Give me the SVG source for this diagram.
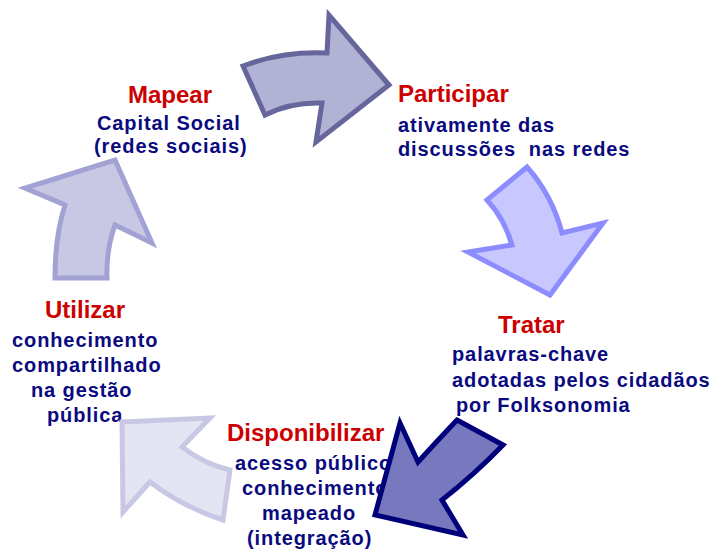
<svg xmlns="http://www.w3.org/2000/svg" width="712" height="552" viewBox="0 0 712 552">
<style>
.t{font-family:"Liberation Sans",Arial,sans-serif;font-weight:bold;font-size:24px;fill:#cc0000}
.b{font-family:"Liberation Sans",Arial,sans-serif;font-weight:bold;font-size:20px;fill:#0a0a80;letter-spacing:0.9px}
.arr{stroke-width:5;stroke-linejoin:miter}
</style>
<rect width="712" height="552" fill="#ffffff"/>
<g id="mapear">
<text class="t" x="128" y="103">Mapear</text>
<text class="b" x="97" y="130">Capital Social</text>
<text class="b" x="94" y="153">(redes sociais)</text>
</g>
<g id="participar">
<text class="t" x="398" y="102">Participar</text>
<text class="b" x="398" y="132">ativamente das</text>
<text class="b" x="398" y="156" xml:space="preserve">discussões  nas redes</text>
</g>
<g id="tratar">
<text class="t" x="498" y="333">Tratar</text>
<text class="b" x="452" y="361">palavras-chave</text>
<text class="b" x="452" y="387">adotadas pelos cidadãos</text>
<text class="b" x="456" y="412">por Folksonomia</text>
</g>
<g id="disponibilizar">
<text class="t" x="227" y="441">Disponibilizar</text>
<text class="b" x="235" y="470">acesso público</text>
<text class="b" x="242" y="495">conhecimento</text>
<text class="b" x="262" y="520">mapeado</text>
<text class="b" x="247" y="545">(integração)</text>
</g>
<g id="utilizar">
<text class="t" x="45" y="318">Utilizar</text>
<text class="b" x="12" y="347">conhecimento</text>
<text class="b" x="12" y="372">compartilhado</text>
<text class="b" x="31" y="397">na gestão</text>
<text class="b" x="47" y="422">pública</text>
</g>
<g id="connectors">
<path class="arr" fill="#b2b2d4" stroke="#66669c" d="M243,66 Q282,51 327,53 L329,15 L389,85 L316,142 L322,103 Q290,102 265,115 Z"/>
<path class="arr" fill="#c8c8ff" stroke="#8c8cff" d="M527,167 Q552,195 562,233 L603,223 L550,295 L468,252 L512,245 Q504,218 487,200 Z"/>
<path class="arr" fill="#e4e4f2" stroke="#c8c8e4" d="M122,422 L210,418 L182,447 Q204,464 230,470 L223,520 Q183,507 150,482 L123,512 Z"/>
<path class="arr" fill="#c8c8e4" stroke="#a2a2d4" d="M115,160 L152,243 L115,225 Q106,250 107,278 L55,278 Q55,236 65,205 L25,188 Z"/>
<path class="arr" fill="#7878be" stroke="#00007a" d="M457,420 L503,445 Q475,474 442,500 L463,535 L375,515 L400,423 L418,462 Q438,440 457,420 Z"/>
</g>
</svg>
